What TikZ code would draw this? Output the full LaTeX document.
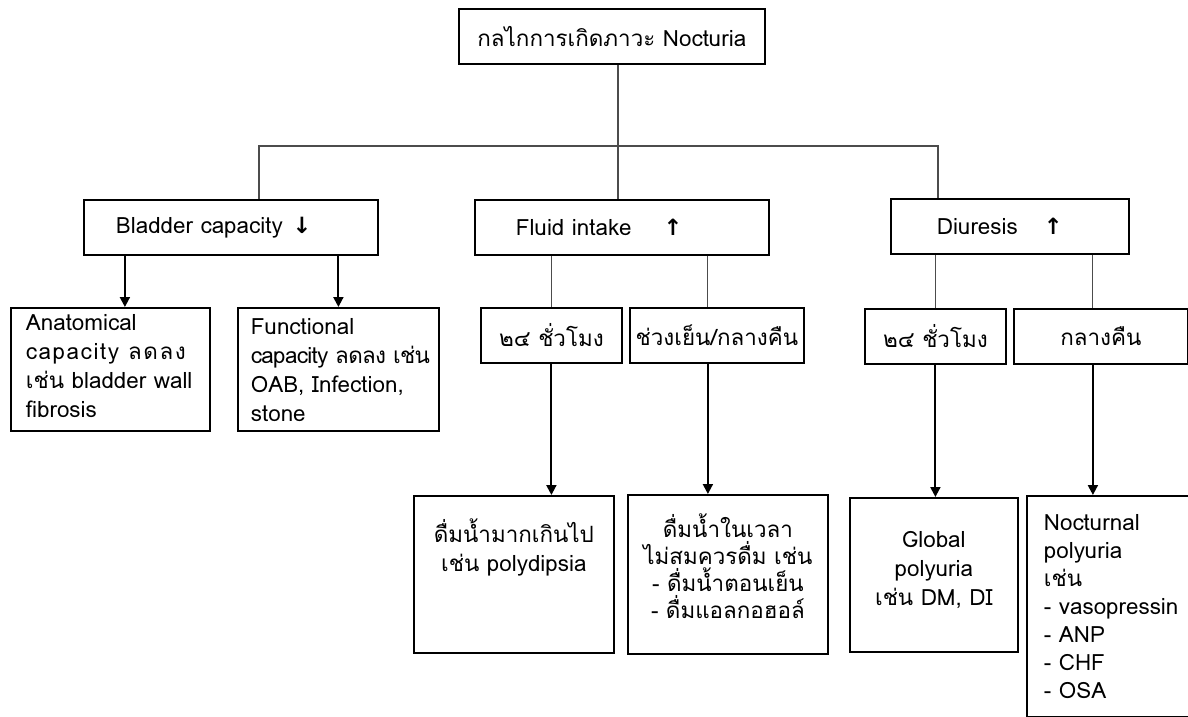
\documentclass[tikz,border=0pt]{standalone}
\usepackage{fontspec}
\setmainfont[Script=Thai]{Loma}
\newfontfamily\arrowfont{DejaVu Sans}
\usetikzlibrary{arrows.meta,positioning}

\tikzset{
  box/.style={draw, line width=0.9pt, inner sep=0pt, anchor=north west},
  link/.style={draw=black!70, line width=0.55pt},
  arr/.style={-{Triangle[length=5pt,width=5pt]}, line width=1pt},
}
% first line height inside a top aligned cell
\newcommand{\topline}[1]{\rule{0pt}{#1}}

\begin{document}
\begin{tikzpicture}[x=0.5pt, y=-0.5pt, every node/.style={font=\fontsize{11.2}{14.5}\selectfont}]

    \useasboundingbox (0,0) rectangle (1188,717);

    %top
    \node[box, minimum width=153pt, minimum height=27.5pt] (top) at (458,8)
        {กลไกการเกิดภาวะ Nocturia};

    %second row
    \node[box, minimum height=27.5pt, text width=115pt, inner xsep=16pt, align=left] (bladder) at (83,199)
        {Bladder capacity\hspace{5pt}{\arrowfont\bfseries ↓}};
    \node[box, minimum height=27.5pt, text width=106pt, inner xsep=20.5pt, align=left] (fluid) at (474,199)
        {Fluid intake\hspace{16pt}{\arrowfont\bfseries ↑}};
    \node[box, minimum height=27.5pt, text width=73pt, inner xsep=23pt, align=left] (diuresis) at (890,198)
        {Diuresis\hspace{13pt}{\arrowfont\bfseries ↑}};

    %bladder capacity
    \node[box, inner xsep=7.5pt] (anat) at (10,307)
        {\parbox[c][61.5pt][t]{84.5pt}{\raggedright\topline{11.5pt}Anatomical\\
        {\addfontfeature{LetterSpace=7}capacity ลดลง}\\
        เช่น bladder wall\\ fibrosis}};
    \node[box, inner xsep=6.5pt] (func) at (237,307)
        {\parbox[c][61.5pt][t]{87.5pt}{\raggedright\topline{13.5pt}Functional\\
        \mbox{\addfontfeature{LetterSpace=-3}capacity ลดลง เช่น}\\ OAB, Infection,\\ stone}};

    %fluid intake
    \node[box, minimum width=70.5pt, minimum height=27.5pt] (fsub1) at (480,307) {๒๔ ชั่วโมง};
    \node[box, minimum width=87pt, minimum height=27.5pt] (fsub2) at (629,307) {ช่วงเย็น/กลางคืน};
    \node[box] (drink1) at (413,495)
        {\parbox[c][78.5pt][t]{100pt}{\centering\topline{23.5pt}ดื่มน้ำมากเกินไป\\ เช่น polydipsia}};
    \node[box] (drink2) at (627,494)
        {\parbox[c][79.5pt][t]{100pt}{\centering\setlength{\baselineskip}{13.5pt}\topline{21.5pt}ดื่มน้ำในเวลา\\
        ไม่สมควรดื่ม เช่น\\ - ดื่มน้ำตอนเย็น\\ - ดื่มแอลกอฮอล์}};

    %diuresis
    \node[box, minimum width=70.5pt, minimum height=27.5pt] (dsub1) at (864,308) {๒๔ ชั่วโมง};
    \node[box, minimum width=87pt, minimum height=27.5pt] (dsub2) at (1013,308) {กลางคืน};
    \node[box] (global) at (849,497)
        {\parbox[c][77pt][t]{84pt}{\centering\topline{25pt}Global\\ polyuria\\ เช่น DM, DI}};
    \node[box, inner xsep=8.5pt] (noct) at (1026,495)
        {\parbox[c][110.5pt][t]{80pt}{\raggedright\setlength{\baselineskip}{14pt}\topline{17.5pt}Nocturnal\\
        polyuria\\ เช่น\\ - vasopressin\\ - ANP\\ - CHF\\ - OSA}};

    %tree lines
    \coordinate (split) at (618,146);
    \coordinate (jl) at (259,146);
    \coordinate (jr) at (938,146);
    \draw[link] (top.south -| split) -- (fluid.north -| split);
    \draw[link] (bladder.north -| jl) -- (jl) -- (jr) -- (diuresis.north -| jr);

    \draw[link] (fsub1.north |- fluid.south) -- (fsub1.north);
    \draw[link] ([xshift=-4.5pt]fsub2.north |- fluid.south) -- ([xshift=-4.5pt]fsub2.north);
    \draw[link] (dsub1.north |- diuresis.south) -- (dsub1.north);
    \draw[link] ([xshift=-4pt]dsub2.north |- diuresis.south) -- ([xshift=-4pt]dsub2.north);

    %arrows
    \draw[arr] ([xshift=7.25pt]anat.north |- bladder.south) -- ([xshift=7.25pt]anat.north);
    \draw[arr] (func.north |- bladder.south) -- (func.north);
    \draw[arr] (fsub1.south) -- (fsub1.south |- drink1.north);
    \draw[arr] ([xshift=-4.5pt]fsub2.south) -- ([xshift=-4.5pt]fsub2.south |- drink2.north);
    \draw[arr] (dsub1.south) -- (dsub1.south |- global.north);
    \draw[arr] ([xshift=-4pt]dsub2.south) -- ([xshift=-4pt]dsub2.south |- noct.north);

\end{tikzpicture}
\end{document}
